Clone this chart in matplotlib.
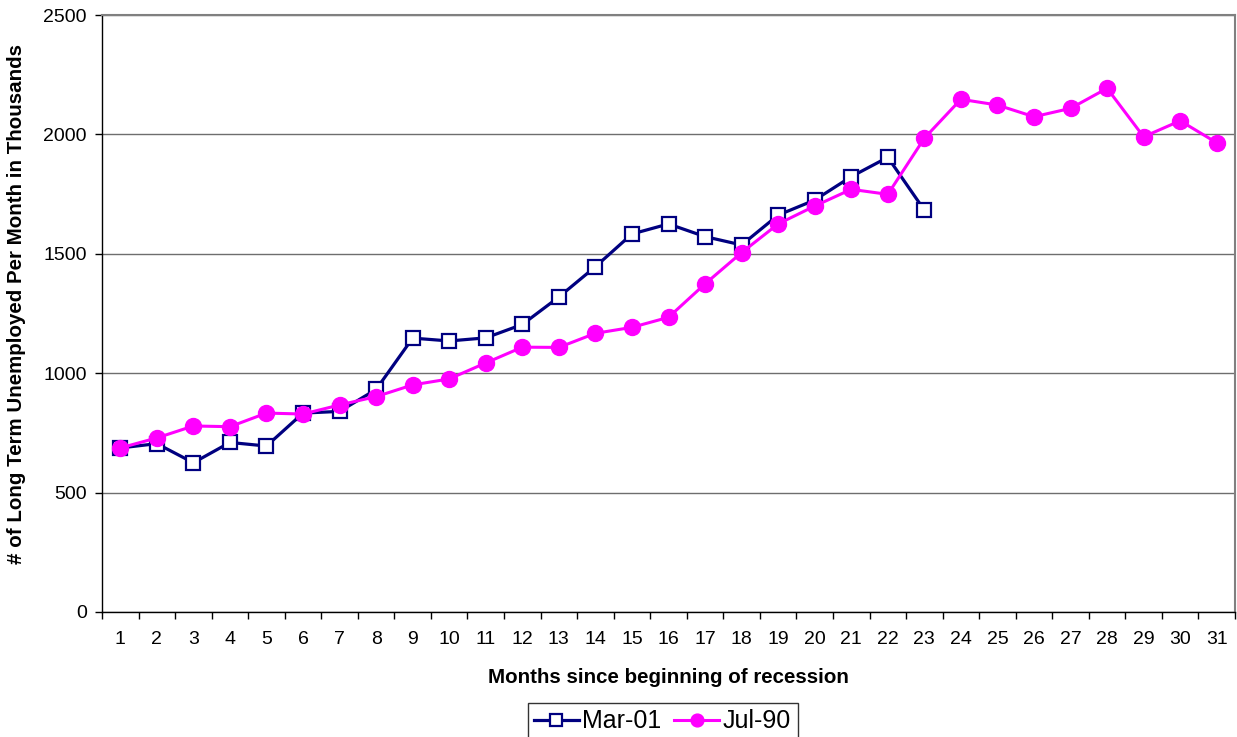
import matplotlib.pyplot as plt
import numpy as np

# values (thousands)
months = list(range(1, 32))
mar01 = [687, 705, 625, 710, 695, 833, 840, 932, 1147, 1135, 1148, 1204,
         1319, 1446, 1583, 1625, 1572, 1537, 1662, 1725, 1823, 1904, 1683]
jul90 = [687, 729, 779, 776, 833, 829, 867, 902, 951, 976, 1043, 1109,
         1108, 1167, 1192, 1234, 1374, 1505, 1625, 1700, 1770, 1749, 1984,
         2147, 2123, 2074, 2109, 2193, 1990, 2057, 1965]
yticks = [0, 500, 1000, 1500, 2000, 2500]

plt.rcParams['font.family'] = ['Liberation Sans', 'DejaVu Sans']

fig = plt.figure(figsize=(12.37, 7.37), dpi=100)
ax = fig.add_axes([102 / 1237, 1 - 612 / 737, (1235 - 102) / 1237, (612 - 15) / 737])

ax.plot(months[:len(mar01)], mar01, color='#000080', linewidth=2.3,
        marker='s', markersize=10.5, markerfacecolor='white',
        markeredgecolor='#000080', markeredgewidth=1.6, label='Mar-01', zorder=3)
ax.plot(months, jul90, color='#FF00FF', linewidth=2.2,
        marker='o', markersize=11.5, markerfacecolor='#FF00FF',
        markeredgecolor='#FF00FF', label='Jul-90', zorder=4)

ax.set_xlim(0.5, 31.5)
ax.set_ylim(0, 2500)

# category axis: labels centred, tick marks between categories
ax.set_xticks(months)
ax.set_xticklabels([str(m) for m in months])
ax.set_xticks(np.arange(0.5, 32, 1), minor=True)
ax.tick_params(axis='x', which='major', length=0, labelsize=14, pad=14)
ax.tick_params(axis='x', which='minor', length=5, direction='out', width=1)

ax.set_yticks(yticks)
ax.tick_params(axis='y', length=5, direction='out', width=1, labelsize=14, pad=6)

ax.yaxis.grid(True, color='#6e6e6e', linewidth=1)
ax.set_axisbelow(True)

for s in ['left', 'bottom']:
    ax.spines[s].set_color('black')
    ax.spines[s].set_linewidth(1)
for s in ['top', 'right']:
    ax.spines[s].set_color('#808080')
    ax.spines[s].set_linewidth(1.5)

ax.set_xlabel('Months since beginning of recession', fontsize=14.8,
              fontweight='bold', labelpad=14)
ax.set_ylabel('# of Long Term Unemployed Per Month in Thousands', fontsize=14.8,
              fontweight='bold')
ax.yaxis.set_label_coords(-0.067, 0.516)

leg = fig.legend(loc='upper center', bbox_to_anchor=(662.5 / 1237, 1 - 703 / 737),
                 ncol=2, fontsize=18, frameon=True, fancybox=False,
                 edgecolor='black', handlelength=1.8, handletextpad=0.15,
                 columnspacing=0.5, borderpad=0.25, borderaxespad=0,
                 markerscale=0.8)
leg.get_frame().set_linewidth(1)

fig.savefig('out.png', dpi=100)
